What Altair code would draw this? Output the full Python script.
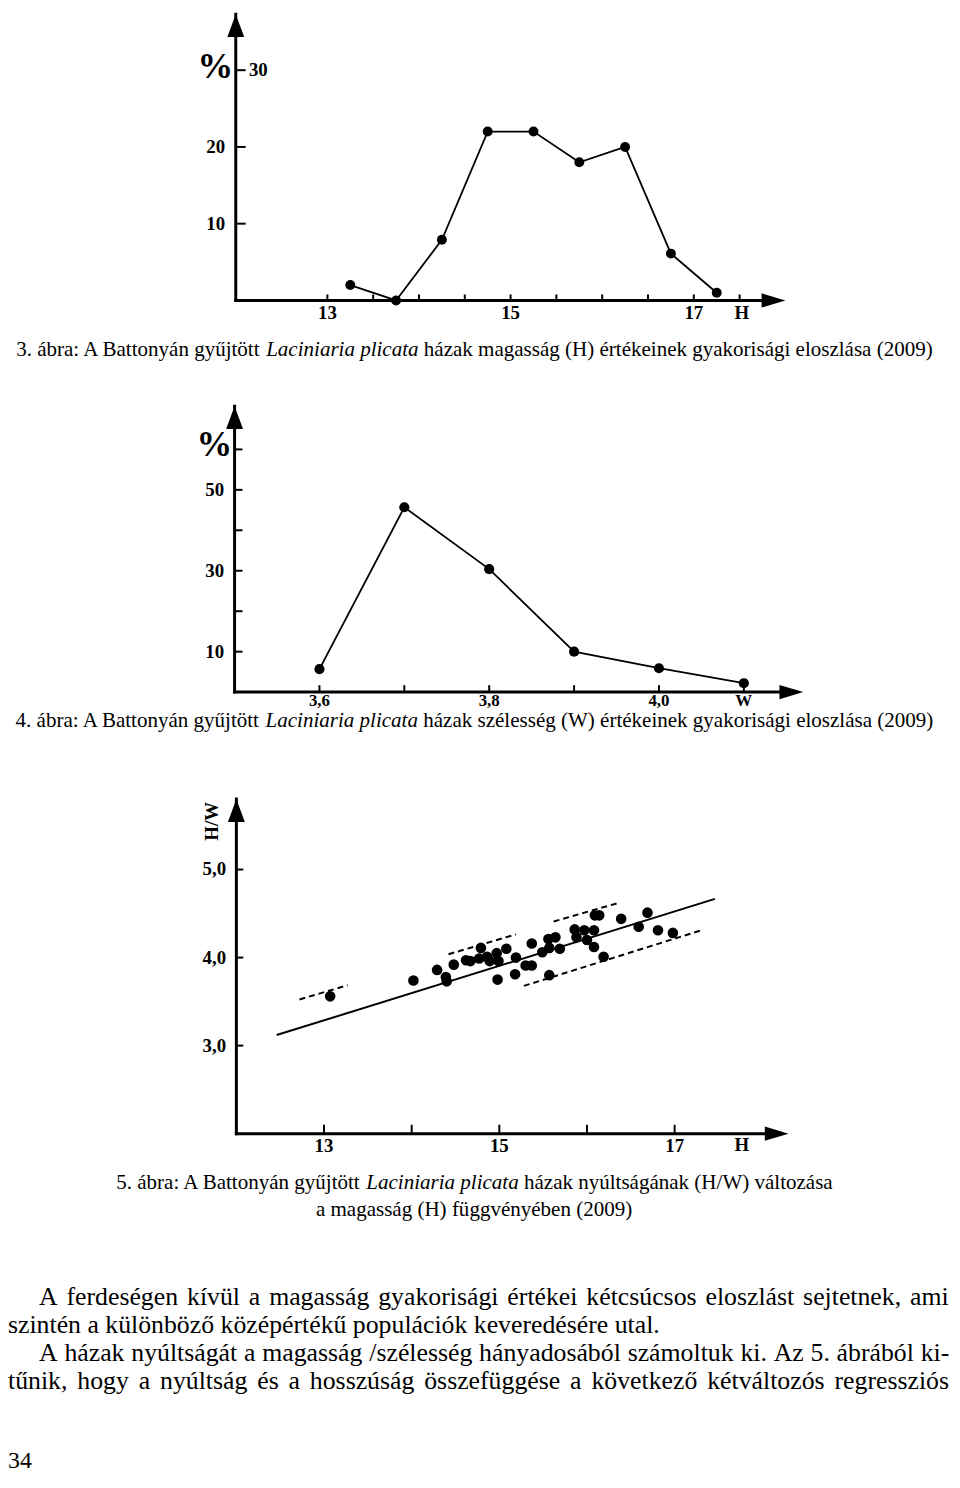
import unicodedata
import altair as alt
import pandas as pd

FONT = "Liberation Serif"

# ---------------- data ----------------
# 3. ábra : height (H) frequency distribution
fig3_h = [13.25, 13.75, 14.25, 14.75, 15.25, 15.75, 16.25, 16.75, 17.25]
fig3_pct = [2.0, 0.0, 7.9, 22.0, 22.0, 18.0, 20.0, 6.1, 1.0]
fig3_xdomain = [12, 18]
fig3_ydomain = [0, 37.3]
fig3_xticks = [13, 13.5, 14, 14.5, 15, 15.5, 16, 16.5, 17, 17.5]
fig3_xlabels = [13, 15, 17]
fig3_yticks = [10, 20, 30]
fig3_ylabels_left = [10, 20]
fig3_ylabels_right = [30]

# 4. ábra : width (W) frequency distribution
fig4_w = [3.6, 3.7, 3.8, 3.9, 4.0, 4.1]
fig4_pct = [5.7, 45.7, 30.4, 10.0, 5.9, 2.2]
fig4_xdomain = [3.5, 4.17]
fig4_ydomain = [0, 70.7]
fig4_xticks = [3.6, 3.7, 3.8, 3.9, 4.0, 4.1]
fig4_xlabels = [3.6, 3.8, 4.0]
fig4_xlabel_text = ["3,6", "3,8", "4,0"]
fig4_yticks = [10, 20, 30, 40, 50, 60]
fig4_ylabels = [10, 30, 50]

# 5. ábra : H/W against H
fig5_h = [13.07, 14.02, 14.29, 14.39, 14.40, 14.48, 14.62, 14.67, 14.77, 14.79,
          14.86, 14.89, 14.97, 14.99, 14.98, 15.08, 15.19, 15.18, 15.30, 15.37,
          15.37, 15.49, 15.56, 15.57, 15.57, 15.64, 15.69, 15.86, 15.88, 15.97,
          16.00, 16.08, 16.08, 16.09, 16.14, 16.19, 16.39, 16.59, 16.69, 16.81, 16.98]
fig5_hw = [3.56, 3.74, 3.86, 3.78, 3.73, 3.92, 3.97, 3.96, 3.99, 4.11,
           4.01, 3.96, 4.05, 3.96, 3.75, 4.10, 4.00, 3.81, 3.91, 3.91,
           4.16, 4.06, 4.21, 4.11, 3.80, 4.23, 4.10, 4.32, 4.23, 4.31,
           4.20, 4.31, 4.12, 4.48, 4.48, 4.01, 4.44, 4.35, 4.51, 4.31, 4.28]
fig5_reg_h = [12.46, 17.46]
fig5_reg_hw = [3.12, 4.667]
fig5_dash_h0 = [12.72, 14.42, 15.62, 15.28]
fig5_dash_h1 = [13.27, 15.19, 16.37, 17.30]
fig5_dash_hw0 = [3.524, 4.038, 4.410, 3.678]
fig5_dash_hw1 = [3.686, 4.264, 4.624, 4.309]
fig5_xdomain = [12, 18.3]
fig5_ydomain = [2.0, 5.8]
fig5_xticks = [13, 14, 15, 16, 17]
fig5_xlabels = [13, 15, 17]
fig5_yticks = [3.0, 4.0, 5.0]
fig5_ylabel_text = ["3,0", "4,0", "5,0"]

caption3 = ["3. ábra: A Battonyán gyűjtött", "Laciniaria plicata",
            "házak magasság (H) értékeinek gyakorisági eloszlása (2009)"]
caption4 = ["4. ábra: A Battonyán gyűjtött", "Laciniaria plicata",
            "házak szélesség (W) értékeinek gyakorisági eloszlása (2009)"]
caption5a = ["5. ábra: A Battonyán gyűjtött", "Laciniaria plicata",
             "házak nyúltságának (H/W) változása"]
caption5b = "a magasság (H) függvényében (2009)"
body_lines = [
    "A ferdeségen kívül a magasság gyakorisági értékei kétcsúcsos eloszlást sejtetnek, ami",
    "szintén a különböző középértékű populációk keveredésére utal.",
    "A házak nyúltságát a magasság /szélesség hányadosából számoltuk ki. Az 5. ábrából ki-",
    "tűnik, hogy a nyúltság és a hosszúság összefüggése a következő kétváltozós regressziós",
]
page_number = "34"

# ---------------- text metrics (Times-compatible) ----------------
TR = {' ': 250, '!': 333, '(': 333, ')': 333, ',': 250, '-': 333, '.': 250, '/': 278, ':': 278}
for d in "0123456789":
    TR[d] = 500
TR.update(dict(zip("ABCDEFGHIJKLMNOPQRSTUVWXYZ",
                   [722, 667, 667, 722, 611, 556, 722, 722, 333, 389, 722, 611, 889,
                    722, 722, 556, 722, 667, 556, 611, 722, 722, 944, 722, 722, 611])))
TR.update(dict(zip("abcdefghijklmnopqrstuvwxyz",
                   [444, 500, 444, 500, 444, 333, 500, 500, 278, 278, 500, 278, 778,
                    500, 500, 500, 500, 333, 389, 278, 500, 500, 722, 500, 500, 444])))
TI = dict(TR)
TI.update(dict(zip("abcdefghijklmnopqrstuvwxyz",
                   [500, 500, 444, 500, 444, 278, 500, 500, 278, 278, 444, 278, 722,
                    500, 500, 500, 500, 389, 389, 278, 500, 444, 667, 444, 444, 389])))
TI["L"] = 556


def tw(s, size, italic=False):
    t = TI if italic else TR
    return sum(t.get(unicodedata.normalize("NFD", c)[0], 500) for c in s) * size / 1000.0


def P(v):
    """page coordinate -> canvas coordinate (8px page margin)"""
    return v - 8


ONE = alt.Data(values=[{"k": 0}])


def seg(text, x, y, size, style="normal", weight="normal", align="left", angle=0):
    return alt.Chart(ONE).mark_text(
        text=text, font=FONT, fontSize=size, fontStyle=style, fontWeight=weight,
        align=align, baseline="middle", angle=angle, color="black"
    ).encode(x=alt.value(x), y=alt.value(y))


def caption(parts, center, y, size=21.2):
    a, it, b = parts
    sp = tw(" ", size)
    total = tw(a, size) + sp + tw(it, size, True) + sp + tw(b, size)
    x = center - total / 2
    out = [seg(a, x, y, size)]
    x += tw(a, size) + sp * 0.8
    out.append(seg(it, x, y, size, style="italic"))
    x += tw(it, size, True) + sp
    out.append(seg(b, x, y, size))
    return out


def justified(line, x0, x1, y, size):
    words = line.split(" ")
    widths = [tw(w, size) for w in words]
    gap = (x1 - x0 - sum(widths)) / (len(words) - 1)
    out = []
    x = x0
    for w, wd in zip(words, widths):
        out.append(seg(w, x, y, size))
        x += wd + gap
    return out


UP = "M0,0L0.37,1L-0.37,1Z"
RIGHT = "M0,0L-1,-0.3L-1,0.3Z"
TICK_UP = "M0,0L0,-1"
TICK_RIGHT = "M0,0L1,0"


def frame(xs, ys, xd, yd, xticks, yticks, xtick_len, ytick_len):
    X = lambda f: alt.X(f, scale=xs, axis=None)
    Y = lambda f: alt.Y(f, scale=ys, axis=None)
    layers = []
    layers.append(alt.Chart(pd.DataFrame({"x": [xd[0]], "y": [yd[0]], "y2": [yd[1]]}))
                  .mark_rule(color="black", strokeWidth=3, strokeCap="square")
                  .encode(x=X("x:Q"), y=Y("y:Q"), y2="y2:Q"))
    xend = xd[1] - (xd[1] - xd[0]) * 0.02
    layers.append(alt.Chart(pd.DataFrame({"x": [xd[0]], "x2": [xend], "y": [yd[0]]}))
                  .mark_rule(color="black", strokeWidth=3, strokeCap="square")
                  .encode(x=X("x:Q"), x2="x2:Q", y=Y("y:Q")))
    layers.append(alt.Chart(pd.DataFrame({"x": [xd[0]], "y": [yd[1]]}))
                  .mark_point(shape=UP, size=2116, filled=True, opacity=1, color="black", strokeWidth=0)
                  .encode(x=X("x:Q"), y=Y("y:Q")))
    layers.append(alt.Chart(pd.DataFrame({"x": [xd[1]], "y": [yd[0]]}))
                  .mark_point(shape=RIGHT, size=2304, filled=True, opacity=1, color="black", strokeWidth=0)
                  .encode(x=X("x:Q"), y=Y("y:Q")))
    layers.append(alt.Chart(pd.DataFrame({"x": xticks, "y": [yd[0]] * len(xticks)}))
                  .mark_point(shape=TICK_UP, size=(2 * xtick_len) ** 2, filled=False, opacity=1,
                              color="black", strokeWidth=2)
                  .encode(x=X("x:Q"), y=Y("y:Q")))
    layers.append(alt.Chart(pd.DataFrame({"x": [xd[0]] * len(yticks), "y": yticks}))
                  .mark_point(shape=TICK_RIGHT, size=(2 * ytick_len) ** 2, filled=False, opacity=1,
                              color="black", strokeWidth=2)
                  .encode(x=X("x:Q"), y=Y("y:Q")))
    return layers


LABEL = dict(font=FONT, fontWeight="bold", fontSize=19, color="black", baseline="middle")
LABEL4 = dict(font=FONT, fontWeight="bold", fontSize=17, color="black", baseline="middle")

# ---------------- figure 3 ----------------
xs3 = alt.Scale(domain=fig3_xdomain, range=[P(237.7), P(792)], nice=False, zero=False)
ys3 = alt.Scale(domain=fig3_ydomain, range=[P(296.7), P(8)], nice=False, zero=False)
d3 = pd.DataFrame({"H": fig3_h, "pct": fig3_pct})
f3 = frame(xs3, ys3, fig3_xdomain, fig3_ydomain, fig3_xticks, fig3_yticks, 6, 10)
f3.append(alt.Chart(d3).mark_line(color="black", strokeWidth=1.8)
          .encode(x=alt.X("H:Q", scale=xs3, axis=None), y=alt.Y("pct:Q", scale=ys3, axis=None)))
f3.append(alt.Chart(d3).mark_circle(color="black", size=100, opacity=1)
          .encode(x=alt.X("H:Q", scale=xs3, axis=None), y=alt.Y("pct:Q", scale=ys3, axis=None)))
f3.append(alt.Chart(pd.DataFrame({"v": fig3_xlabels, "t": [str(v) for v in fig3_xlabels]}))
          .mark_text(align="center", **LABEL)
          .encode(x=alt.X("v:Q", scale=xs3, axis=None), y=alt.value(P(309)), text="t:N"))
f3.append(alt.Chart(pd.DataFrame({"v": fig3_ylabels_left, "t": [str(v) for v in fig3_ylabels_left]}))
          .mark_text(align="right", **LABEL)
          .encode(y=alt.Y("v:Q", scale=ys3, axis=None), x=alt.value(P(227)), text="t:N"))
f3.append(alt.Chart(pd.DataFrame({"v": fig3_ylabels_right, "t": [str(v) for v in fig3_ylabels_right]}))
          .mark_text(align="left", **LABEL)
          .encode(y=alt.Y("v:Q", scale=ys3, axis=None), x=alt.value(P(251)), text="t:N"))
chart3 = alt.layer(*f3)

# ---------------- figure 4 ----------------
xs4 = alt.Scale(domain=fig4_xdomain, range=[P(236.5), P(810)], nice=False, zero=False)
ys4 = alt.Scale(domain=fig4_ydomain, range=[P(691.7), P(403.3)], nice=False, zero=False)
d4 = pd.DataFrame({"W": fig4_w, "pct": fig4_pct})
f4 = frame(xs4, ys4, fig4_xdomain, fig4_ydomain, fig4_xticks, fig4_yticks, 7, 8)
f4.append(alt.Chart(d4).mark_line(color="black", strokeWidth=1.8)
          .encode(x=alt.X("W:Q", scale=xs4, axis=None), y=alt.Y("pct:Q", scale=ys4, axis=None)))
f4.append(alt.Chart(d4).mark_circle(color="black", size=105, opacity=1)
          .encode(x=alt.X("W:Q", scale=xs4, axis=None), y=alt.Y("pct:Q", scale=ys4, axis=None)))
f4.append(alt.Chart(pd.DataFrame({"v": fig4_xlabels, "t": fig4_xlabel_text}))
          .mark_text(align="center", **LABEL4)
          .encode(x=alt.X("v:Q", scale=xs4, axis=None), y=alt.value(P(701)), text="t:N"))
f4.append(alt.Chart(pd.DataFrame({"v": fig4_ylabels, "t": [str(v) for v in fig4_ylabels]}))
          .mark_text(align="right", **LABEL)
          .encode(y=alt.Y("v:Q", scale=ys4, axis=None), x=alt.value(P(226)), text="t:N"))
chart4 = alt.layer(*f4)

# ---------------- figure 5 ----------------
xs5 = alt.Scale(domain=fig5_xdomain, range=[P(238.3), P(795.2)], nice=False, zero=False)
ys5 = alt.Scale(domain=fig5_ydomain, range=[P(1137), P(799.6)], nice=False, zero=False)
d5 = pd.DataFrame({"H": fig5_h, "HW": fig5_hw})
reg = pd.DataFrame({"H": [fig5_reg_h[0]], "H2": [fig5_reg_h[1]], "HW": [fig5_reg_hw[0]], "HW2": [fig5_reg_hw[1]]})
dash = pd.DataFrame({"H": fig5_dash_h0, "H2": fig5_dash_h1, "HW": fig5_dash_hw0, "HW2": fig5_dash_hw1})
f5 = frame(xs5, ys5, fig5_xdomain, fig5_ydomain, fig5_xticks, fig5_yticks, 9, 7)
f5.append(alt.Chart(reg).mark_rule(color="black", strokeWidth=2)
          .encode(x=alt.X("H:Q", scale=xs5, axis=None), x2="H2:Q",
                  y=alt.Y("HW:Q", scale=ys5, axis=None), y2="HW2:Q"))
f5.append(alt.Chart(dash).mark_rule(color="black", strokeWidth=2, strokeDash=[6, 4])
          .encode(x=alt.X("H:Q", scale=xs5, axis=None), x2="H2:Q",
                  y=alt.Y("HW:Q", scale=ys5, axis=None), y2="HW2:Q"))
f5.append(alt.Chart(d5).mark_circle(color="black", size=115, opacity=1)
          .encode(x=alt.X("H:Q", scale=xs5, axis=None), y=alt.Y("HW:Q", scale=ys5, axis=None)))
f5.append(alt.Chart(pd.DataFrame({"v": fig5_xlabels, "t": [str(v) for v in fig5_xlabels]}))
          .mark_text(align="center", **LABEL)
          .encode(x=alt.X("v:Q", scale=xs5, axis=None), y=alt.value(P(1149)), text="t:N"))
f5.append(alt.Chart(pd.DataFrame({"v": fig5_yticks, "t": fig5_ylabel_text}))
          .mark_text(align="right", **LABEL)
          .encode(y=alt.Y("v:Q", scale=ys5, axis=None), x=alt.value(P(228)), text="t:N"))
chart5 = alt.layer(*f5)

# ---------------- free text ----------------
texts = []
texts.append(seg("%", P(217), P(61), 36, weight="bold", align="center"))
texts.append(seg("H", P(748), P(309), 19, weight="bold", align="center"))
texts.append(seg("%", P(216), P(443), 36, weight="bold", align="center"))
texts.append(seg("W", P(750), P(701), 17, weight="bold", align="center"))
texts.append(seg("H/W", P(214), P(822), 19, weight="bold", align="center", angle=270))
texts.append(seg("H", P(748), P(1148), 19, weight="bold", align="center"))

texts += caption(caption3, P(479), P(347))
texts += caption(caption4, P(479), P(721))
texts += caption(caption5a, P(479), P(1187))
texts.append(seg(caption5b, P(478), P(1214), 21.2, align="center"))

BODY = 26
texts += justified(body_lines[0], P(39.3), P(956.7), P(1302), BODY)
texts.append(seg(body_lines[1], 0, P(1330), BODY))
texts += justified(body_lines[2], P(39.3), P(957.3), P(1358.5), BODY)
texts += justified(body_lines[3], 0, P(957), P(1387), BODY)
texts.append(seg(page_number, 0, P(1467), 24))

chart = alt.layer(chart3, chart4, chart5, *texts).resolve_scale(
    x="independent", y="independent"
).properties(
    width=952, height=1464, padding=0,
    autosize=alt.AutoSizeParams(type="none"), background="white"
).configure_view(strokeWidth=0)

chart.save("out.html", embed_options={"renderer": "svg", "actions": False})
